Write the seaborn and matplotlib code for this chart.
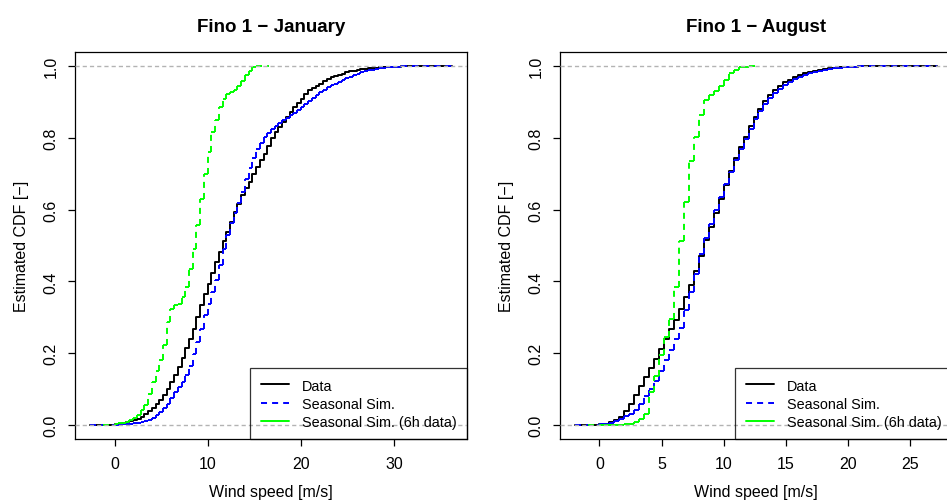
import numpy as np
import pandas as pd
import matplotlib
matplotlib.use("Agg")
import matplotlib.pyplot as plt
from matplotlib.lines import Line2D
import seaborn as sns

# wind speeds sit on a 0.4 m/s grid; each list is the ECDF value after the
# jump at knot 0.0, 0.4, 0.8, ...
KNOT_STEP = 0.4

jan_data = [0.001, 0.002, 0.004, 0.007, 0.009, 0.013, 0.017, 0.022, 0.029, 0.037,
            0.046, 0.057, 0.070, 0.082, 0.100, 0.118, 0.140, 0.160, 0.186, 0.215,
            0.240, 0.268, 0.300, 0.333, 0.365, 0.393, 0.424, 0.455, 0.481, 0.512,
            0.537, 0.565, 0.593, 0.615, 0.640, 0.660, 0.678, 0.700, 0.720, 0.738,
            0.756, 0.778, 0.800, 0.816, 0.831, 0.846, 0.860, 0.873, 0.887, 0.899,
            0.910, 0.922, 0.933, 0.940, 0.946, 0.952, 0.958, 0.964, 0.969, 0.973,
            0.977, 0.980, 0.983, 0.986, 0.988, 0.990, 0.992, 0.993, 0.994, 0.995,
            0.996, 0.997, 0.997, 0.998, 0.998, 0.999, 0.999, 1.0]
jan_sim = [0.000, 0.000, 0.001, 0.002, 0.003, 0.004, 0.005, 0.007, 0.010, 0.014,
           0.020, 0.027, 0.036, 0.047, 0.059, 0.074, 0.090, 0.104, 0.120, 0.138,
           0.165, 0.197, 0.232, 0.268, 0.306, 0.338, 0.370, 0.405, 0.445, 0.490,
           0.528, 0.562, 0.592, 0.620, 0.648, 0.685, 0.715, 0.745, 0.770, 0.787,
           0.802, 0.815, 0.826, 0.834, 0.842, 0.850, 0.857, 0.864, 0.871, 0.879,
           0.887, 0.896, 0.904, 0.912, 0.920, 0.928, 0.935, 0.941, 0.947, 0.952,
           0.957, 0.962, 0.967, 0.971, 0.975, 0.979, 0.983, 0.986, 0.989, 0.991,
           0.993, 0.995, 0.996, 0.997, 0.998, 0.999, 0.999, 1.0]
jan_6h = [0.002, 0.004, 0.006, 0.008, 0.013, 0.018, 0.028, 0.040, 0.055, 0.085,
          0.120, 0.150, 0.180, 0.222, 0.286, 0.322, 0.333, 0.338, 0.355, 0.385,
          0.435, 0.491, 0.556, 0.631, 0.700, 0.762, 0.817, 0.849, 0.887, 0.910,
          0.922, 0.928, 0.935, 0.945, 0.960, 0.975, 0.988, 0.998, 1.0]

aug_data = [0.001, 0.003, 0.007, 0.012, 0.022, 0.038, 0.058, 0.083, 0.109, 0.132,
            0.157, 0.183, 0.211, 0.239, 0.267, 0.293, 0.322, 0.355, 0.391, 0.430,
            0.472, 0.514, 0.553, 0.591, 0.630, 0.670, 0.708, 0.744, 0.775, 0.804,
            0.833, 0.858, 0.882, 0.903, 0.920, 0.934, 0.945, 0.955, 0.963, 0.970,
            0.976, 0.981, 0.985, 0.988, 0.990, 0.992, 0.994, 0.995, 0.997, 0.998,
            0.999, 0.999, 1.0]
aug_sim = [0.001, 0.003, 0.006, 0.010, 0.016, 0.023, 0.030, 0.042, 0.058, 0.080,
           0.100, 0.123, 0.151, 0.180, 0.207, 0.240, 0.270, 0.320, 0.370, 0.420,
           0.475, 0.520, 0.560, 0.598, 0.635, 0.672, 0.705, 0.738, 0.770, 0.798,
           0.826, 0.852, 0.875, 0.895, 0.912, 0.926, 0.938, 0.948, 0.957, 0.965,
           0.971, 0.977, 0.981, 0.985, 0.988, 0.990, 0.992, 0.994, 0.996, 0.997,
           0.998, 0.999, 1.0]
aug_6h = [0.000, 0.000, 0.000, 0.000, 0.000, 0.001, 0.003, 0.008, 0.015, 0.030,
          0.090, 0.135, 0.195, 0.245, 0.295, 0.385, 0.512, 0.621, 0.735, 0.804,
          0.865, 0.907, 0.921, 0.932, 0.945, 0.963, 0.982, 0.991, 0.998, 0.999,
          1.0]

# horizontal reach of each step function (R's plot.stepfun default) and axis limits
jan_spans = [(-2.69, 36.3), (-2.69, 36.3), (-1.2, 16.6)]
aug_spans = [(-2.0, 27.2), (-2.0, 27.2), (-0.9, 12.96)]
jan_xlim = (-4.25, 37.86)
aug_xlim = (-3.17, 28.37)
jan_xticks = [0, 10, 20, 30]
aug_xticks = [0, 5, 10, 15, 20, 25]
y_ticks = [0.0, 0.2, 0.4, 0.6, 0.8, 1.0]

titles = ["Fino 1 \u2212 January", "Fino 1 \u2212 August"]
labels = ["Data", "Seasonal Sim.", "Seasonal Sim. (6h data)"]
colors = ["black", "#0000FF", "#00FF00"]

LW = 1.4
DASH = (0, (3.1, 2.6))

sns.set_style("ticks")
plt.rcParams["font.family"] = ["Liberation Sans", "DejaVu Sans"]
plt.rcParams["axes.unicode_minus"] = True
for key in ("text.color", "axes.labelcolor", "xtick.color", "ytick.color",
            "axes.edgecolor"):
    plt.rcParams[key] = "black"


def knots_of(values):
    return np.round(np.arange(len(values)) * KNOT_STEP, 2)


def step_frame(values, span):
    # one continuous step line (for the solid series)
    k = knots_of(values)
    xs = np.r_[span[0], k, span[1]]
    ys = np.r_[0.0, values, values[-1]]
    return pd.DataFrame({"x": xs, "F": ys})


def segment_frame(values, span):
    # every horizontal / vertical piece is its own unit, so the dash
    # pattern restarts on each piece like R's segments()
    k = knots_of(values)
    F = np.asarray(values, dtype=float)
    rows = []
    seg = 0
    for a, b, y in zip(np.r_[span[0], k], np.r_[k, span[1]], np.r_[0.0, F]):
        rows += [(seg, a, y), (seg, b, y)]
        seg += 1
    for x, y0, y1 in zip(k, np.r_[0.0, F[:-1]], F):
        if y1 > y0:
            rows += [(seg, x, y0), (seg, x, y1)]
            seg += 1
    return pd.DataFrame(rows, columns=["seg", "x", "F"])


fig = plt.figure(figsize=(9.47, 5.02), dpi=100)
ax_l = fig.add_axes([75 / 947, 62 / 502, 392 / 947, 387 / 502])
ax_r = fig.add_axes([560 / 947, 62 / 502, 392 / 947, 387 / 502])

panels = [
    (ax_l, [jan_data, jan_sim, jan_6h], jan_spans, jan_xlim, jan_xticks, titles[0]),
    (ax_r, [aug_data, aug_sim, aug_6h], aug_spans, aug_xlim, aug_xticks, titles[1]),
]

for ax, series, spans, xlim, xticks, title in panels:
    # data: solid black
    sns.lineplot(data=step_frame(series[0], spans[0]), x="x", y="F", ax=ax,
                 color=colors[0], lw=LW, drawstyle="steps-post",
                 sort=False, estimator=None, legend=False)
    # simulations: dashed, drawn piece by piece
    for vals, span, col in zip(series[1:], spans[1:], colors[1:]):
        sns.lineplot(data=segment_frame(vals, span), x="x", y="F", units="seg",
                     ax=ax, color=col, lw=LW, linestyle=DASH, sort=False,
                     estimator=None, legend=False, dash_capstyle="butt")

    for h in (0.0, 1.0):
        ax.axhline(h, color="#B3B3B3", lw=1.0, linestyle=(0, (3.0, 2.2)), zorder=5)

    ax.set_xlim(xlim)
    ax.set_ylim(-0.04, 1.04)
    ax.set_xticks(xticks)
    ax.set_xticklabels([str(t) for t in xticks])
    ax.set_yticks(y_ticks)
    ax.set_yticklabels([f"{t:.1f}" for t in y_ticks], rotation=90, va="center")
    ax.tick_params(axis="both", direction="out", length=5, width=0.9,
                   labelsize=11.5, pad=7, color="black", labelcolor="black")
    for sp in ax.spines.values():
        sp.set_visible(True)
        sp.set_color("black")
        sp.set_linewidth(0.9)

    ax.set_xlabel("Wind speed [m/s]", fontsize=11.5, labelpad=9.5)
    ax.set_ylabel("Estimated CDF [\u2212]", fontsize=11.5, labelpad=10)
    ax.set_title(title, fontsize=13.5, fontweight="bold", pad=15)

    handles = [
        Line2D([], [], color=colors[0], lw=LW),
        Line2D([], [], color=colors[1], lw=LW, linestyle=DASH),
        Line2D([], [], color=colors[2], lw=LW),
    ]
    leg = ax.legend(handles, labels, loc="lower right", bbox_to_anchor=(1, 0),
                    borderaxespad=0, fontsize=10.4, frameon=True, fancybox=False,
                    handlelength=1.95, handletextpad=0.9, labelspacing=0.28,
                    borderpad=0.72)
    leg.get_frame().set_edgecolor("black")
    leg.get_frame().set_facecolor("none")
    leg.get_frame().set_linewidth(0.9)

fig.savefig("out.png", dpi=100)
